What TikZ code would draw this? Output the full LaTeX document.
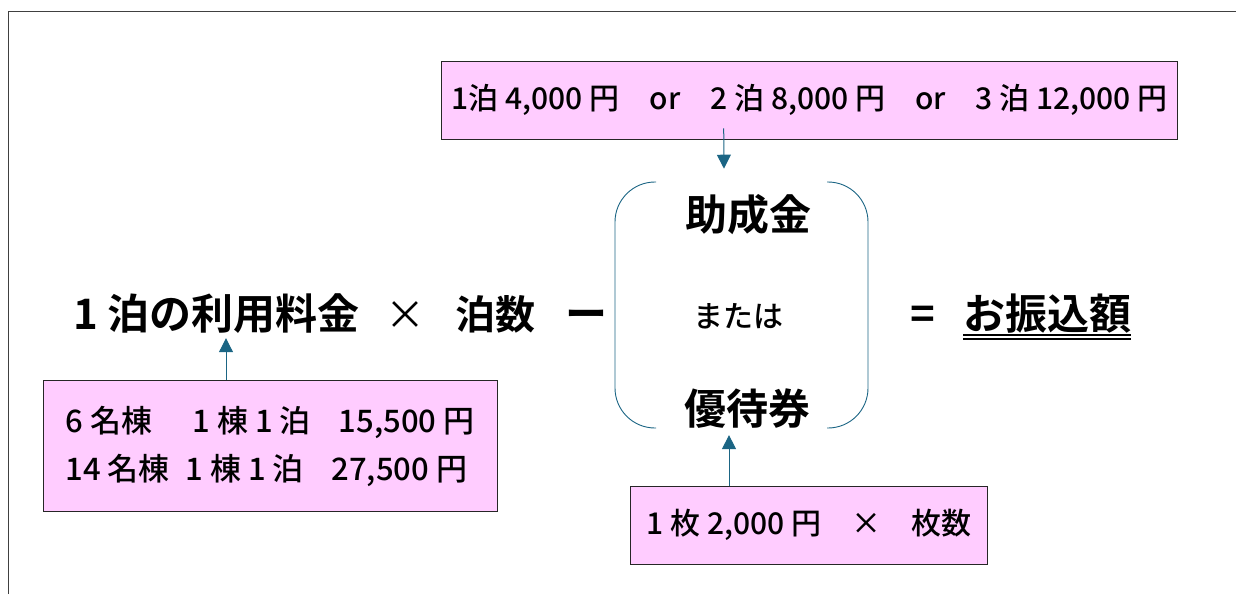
\documentclass[tikz,border=0pt]{standalone}
\usepackage{fontspec}
\setmainfont{Noto Sans CJK JP}[BoldFont={Noto Sans CJK JP Bold}]
\newfontfamily\boxfont{Noto Sans CJK JP Medium}
\usetikzlibrary{arrows.meta}
\usetikzlibrary{positioning}
\usepackage{xcolor}

\definecolor{boxpink}{HTML}{FFCCFF}
\definecolor{linkblue}{HTML}{1B6584}

\tikzset{
  infobox/.style={draw=black!85, fill=boxpink, line width=0.9pt, inner sep=0pt,
    font=\boxfont\fontsize{30}{48}\selectfont},
  arr/.style={draw=linkblue, line width=1pt, -{Triangle[width=14pt,length=14pt]}},
  term/.style={inner sep=0pt, anchor=base, font=\bfseries\fontsize{42}{48}\selectfont},
  choice/.style={inner sep=0pt, anchor=base, font=\bfseries\fontsize{42}{48}\selectfont},
}

\begin{document}
\begin{tikzpicture}[x=1pt,y=-1pt]
  \useasboundingbox (0,0) rectangle (1236,594);
  % frame
  \draw[black!75, line width=1pt] (8,594) -- (8,12) -- (1236,12);

  % formula
  \node[term] (fee) at (216.5,329) {1 泊の利用料金};
  \node[term, font=\fontsize{40}{48}\selectfont] (times) at (405,329) {×};
  \node[term, font=\bfseries\fontsize{40}{48}\selectfont] (nights) at (495,329) {泊数};
  \node[term] (minus) at (586,329) {ー};
  \node[term] (equals) at (923,329) {=};
  \node[term, anchor=base west] (total) at (963,329) {お振込額};
  \draw[line width=1.3pt] ([yshift=-6pt]total.base west) -- ([yshift=-6pt]total.base east);
  \draw[line width=1.3pt] ([yshift=-10pt]total.base west) -- ([yshift=-10pt]total.base east);

  % bracket
  \draw[linkblue, line width=0.9pt, rounded corners=40pt] (656,182) -- (615,182) -- (615,428) -- (656,428);
  \draw[linkblue, line width=0.9pt, rounded corners=40pt] (827,182) -- (868,182) -- (868,428) -- (827,428);
  \node[choice] (grant) at (748,230) {助成金};
  \node[inner sep=0pt, anchor=base, font=\boxfont\fontsize{30}{36}\selectfont] (either) at (738,327) {または};
  \node[choice] (coupon) at (747,424) {優待券};

  % boxes
  \node[infobox, minimum width=736pt, minimum height=78pt] (offer) at (809.7,100)
    {1泊 4,000 円\quad or\quad 2 泊 8,000 円\quad or\quad 3 泊 12,000 円};
  \node[infobox, minimum width=454pt, minimum height=131pt, align=left,
    font=\boxfont\fontsize{31}{48}\selectfont] (room) at (270,446)
    {6 名棟\hspace{1.3em}1 棟 1 泊\hspace{0.9em}15,500 円\\
     14 名棟\hspace{0.5em}1 棟 1 泊\hspace{0.9em}27,500 円};
  \node[infobox, minimum width=357pt, minimum height=78pt] (ticket) at (809,525)
    {1 枚 2,000 円\quad ×\quad 枚数};

  % arrows
  \draw[arr] ([xshift=-86pt,yshift=11pt]offer.south) -- ([xshift=-24pt,yshift=25pt]grant.north);
  \draw[arr] ([xshift=-44pt]room.north) -- ([xshift=9.5pt,yshift=-5pt]fee.south);
  \draw[arr] ([xshift=-80pt]ticket.north) -- ([xshift=-18pt,yshift=-7pt]coupon.south);
\end{tikzpicture}
\end{document}
